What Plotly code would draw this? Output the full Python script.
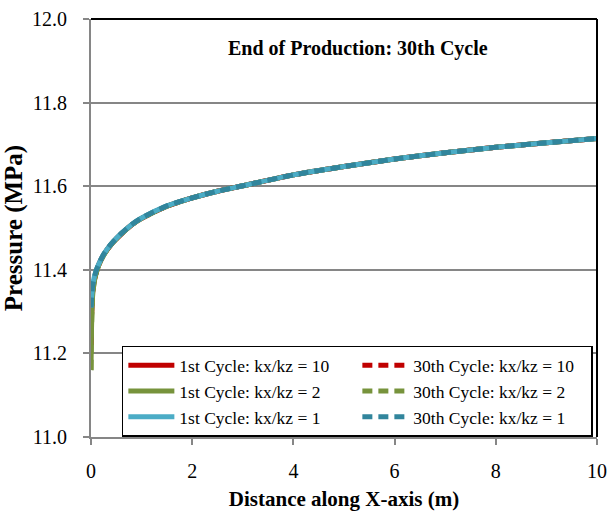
import plotly.graph_objects as go

# Distance along the X-axis (m)
distance = [0, 0.01, 0.03, 0.06, 0.1, 0.15, 0.25, 0.4, 0.6, 0.8, 1.0, 1.5,
            2, 2.5, 3, 4, 5, 6, 7, 8, 9, 10]

# Pressure (MPa) for each anisotropy ratio, 1st cycle
p_1st_k10 = [11.22, 11.29, 11.345, 11.372, 11.393, 11.411, 11.436, 11.461, 11.486, 11.507,
             11.523, 11.552, 11.572, 11.588, 11.601, 11.627, 11.647, 11.665, 11.680,
             11.693, 11.704, 11.714]
p_1st_k2 = [11.16, 11.26, 11.335, 11.368, 11.391, 11.410, 11.435, 11.461, 11.486, 11.507,
            11.523, 11.552, 11.572, 11.588, 11.601, 11.627, 11.647, 11.665, 11.680,
            11.693, 11.704, 11.714]
p_1st_k1 = [11.31, 11.33, 11.36, 11.38, 11.397, 11.413, 11.437, 11.462, 11.487, 11.508,
            11.524, 11.553, 11.572, 11.588, 11.601, 11.627, 11.647, 11.665, 11.680,
            11.693, 11.704, 11.714]

# Pressure (MPa) for each anisotropy ratio, 30th cycle
p_30th_k10 = [11.22, 11.29, 11.345, 11.372, 11.393, 11.411, 11.436, 11.461, 11.486, 11.507,
              11.523, 11.552, 11.572, 11.588, 11.601, 11.627, 11.647, 11.665, 11.680,
              11.693, 11.704, 11.714]
p_30th_k2 = [11.16, 11.26, 11.335, 11.368, 11.391, 11.410, 11.435, 11.461, 11.486, 11.507,
             11.523, 11.552, 11.572, 11.588, 11.601, 11.627, 11.647, 11.665, 11.680,
             11.693, 11.704, 11.714]
p_30th_k1 = [11.31, 11.33, 11.36, 11.38, 11.397, 11.413, 11.437, 11.462, 11.487, 11.508,
             11.524, 11.553, 11.572, 11.588, 11.601, 11.627, 11.647, 11.665, 11.680,
             11.693, 11.704, 11.714]

series = [
    ("1st Cycle: kx/kz = 10", p_1st_k10, "#C00000", "solid"),
    ("30th Cycle: kx/kz = 10", p_30th_k10, "#C00000", "10px,6px"),
    ("1st Cycle: kx/kz = 2", p_1st_k2, "#77933C", "solid"),
    ("30th Cycle: kx/kz = 2", p_30th_k2, "#77933C", "10px,6px"),
    ("1st Cycle: kx/kz = 1", p_1st_k1, "#4BACC6", "solid"),
    ("30th Cycle: kx/kz = 1", p_30th_k1, "#31859C", "10px,6px"),
]

serif = "Liberation Serif, Times New Roman, serif"

fig = go.Figure()
for name, vals, color, dash in series:
    fig.add_trace(go.Scatter(
        x=distance, y=vals, mode="lines", name=name,
        line=dict(color=color, width=5, dash=dash, shape="spline", smoothing=0.6),
    ))

fig.update_layout(
    width=607, height=518,
    margin=dict(l=91, r=10, t=19, b=81),
    paper_bgcolor="white", plot_bgcolor="white",
    font=dict(family=serif, color="black", size=20),
    showlegend=True,
    legend=dict(
        orientation="h", x=0.061, y=0.218, xanchor="left", yanchor="top",
        entrywidth=173, entrywidthmode="pixels", itemwidth=46,
        bgcolor="white", bordercolor="black", borderwidth=1.5,
        font=dict(family=serif, size=17.5, color="black"),
        tracegroupgap=0,
    ),
    annotations=[dict(
        text="<b>End of Production: 30th Cycle</b>",
        x=0.528, y=0.93, xref="paper", yref="paper",
        xanchor="center", yanchor="middle", showarrow=False,
        font=dict(family=serif, size=20, color="black"),
    )],
    shapes=[
        dict(type="line", xref="paper", yref="paper", x0=0, x1=1, y0=1, y1=1,
             line=dict(color="black", width=2)),
        dict(type="line", xref="paper", yref="paper", x0=1, x1=1, y0=0, y1=1,
             line=dict(color="black", width=2)),
    ],
)

fig.update_xaxes(
    range=[0, 10], tickvals=[0, 2, 4, 6, 8, 10], automargin=False,
    showgrid=False, zeroline=False,
    showline=True, linecolor="#868686", linewidth=2,
    ticks="outside", ticklen=6, tickcolor="#868686", tickwidth=1.5,
    tickfont=dict(family=serif, size=20), ticklabelstandoff=9,
    title=dict(text="<b>Distance along X-axis (m)</b>",
               font=dict(family=serif, size=21), standoff=10),
)
fig.update_yaxes(
    range=[11.0, 12.0], tickvals=[11.0, 11.2, 11.4, 11.6, 11.8, 12.0],
    tickformat=".1f", automargin=False,
    showgrid=True, gridcolor="#868686", gridwidth=1.5, zeroline=False,
    showline=True, linecolor="#868686", linewidth=2,
    ticks="outside", ticklen=6, tickcolor="#868686", tickwidth=1.5,
    tickfont=dict(family=serif, size=20), ticklabelstandoff=12,
    title=dict(text="<b>Pressure (MPa)</b>",
               font=dict(family=serif, size=25), standoff=6),
)

fig.write_html("out.html")
